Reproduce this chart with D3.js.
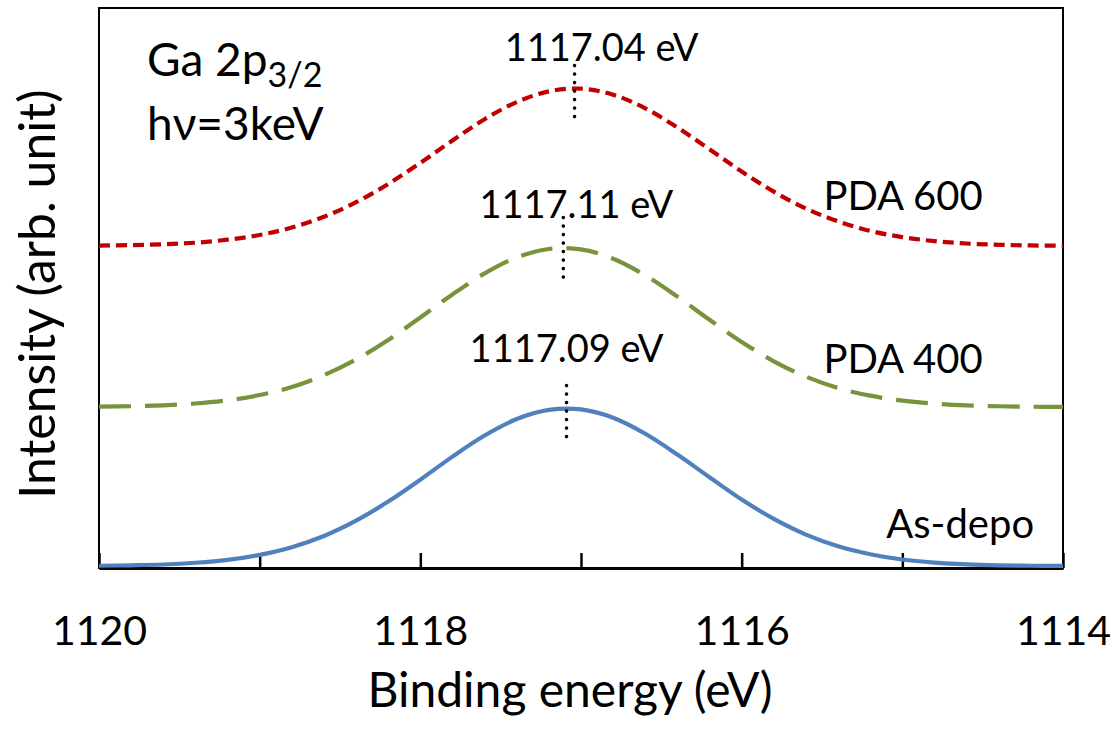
<!DOCTYPE html>
<html>
<head>
<meta charset="utf-8">
<script src="https://cdn.jsdelivr.net/npm/d3@7"></script>
<style>
  html, body { margin: 0; padding: 0; background: #fff; }
  svg text { font-family: Lato, "Open Sans", sans-serif; fill: #000; }
</style>
</head>
<body>
<svg id="chart" width="1113" height="735"></svg>
<script>
// Binding-energy grid (eV), shared by all spectra
const energy = [1120.0, 1119.8, 1119.6, 1119.4, 1119.2, 1119.0, 1118.8, 1118.6, 1118.4, 1118.2,
                1118.0, 1117.8, 1117.6, 1117.4, 1117.2, 1117.0, 1116.8, 1116.6, 1116.4, 1116.2,
                1116.0, 1115.8, 1115.6, 1115.4, 1115.2, 1115.0, 1114.8, 1114.6, 1114.4, 1114.2, 1114.0];

// Ga 2p3/2 intensities (arb. unit, vertically offset)
const asDepo = [0.014, 0.017, 0.022, 0.033, 0.051, 0.082, 0.130, 0.200, 0.296, 0.415,
                0.552, 0.696, 0.828, 0.931, 0.988, 0.991, 0.939, 0.839, 0.709, 0.567,
                0.428, 0.307, 0.209, 0.136, 0.086, 0.053, 0.034, 0.023, 0.017, 0.014, 0.013];
const pda400 = [1.008, 1.011, 1.017, 1.028, 1.048, 1.081, 1.131, 1.205, 1.303, 1.425,
                1.566, 1.710, 1.841, 1.941, 1.994, 1.991, 1.933, 1.829, 1.696, 1.551,
                1.413, 1.292, 1.196, 1.125, 1.077, 1.046, 1.027, 1.016, 1.011, 1.008, 1.007];
const pda600 = [2.015, 2.018, 2.023, 2.033, 2.052, 2.081, 2.128, 2.195, 2.286, 2.400,
                2.532, 2.672, 2.805, 2.912, 2.979, 2.996, 2.958, 2.873, 2.753, 2.617,
                2.478, 2.352, 2.247, 2.166, 2.107, 2.068, 2.043, 2.028, 2.020, 2.016, 2.014];

const seriesNames = ["As-depo", "PDA 400", "PDA 600"];
const seriesValues = [asDepo, pda400, pda600];

// Peak positions (eV) and the vertical extent of each peak marker (arb. unit)
const peakEnergy = [1117.09, 1117.11, 1117.04];
const markerLow  = [0.80, 1.79, 2.79];
const markerHigh = [1.14, 2.19, 3.14];

const xTicks = [1120, 1119, 1118, 1117, 1116, 1115, 1114];
const xTickLabels = ["1120", "", "1118", "", "1116", "", "1114"];

// ---- styling / layout ----
const styles = [
  { color: "#4F81BD", dash: null },
  { color: "#77933C", dash: "32,14" },
  { color: "#C00000", dash: "11,6" }
];
// label placement: series names (right side) and peak-value labels
const nameLabelPos = [
  { e: 1114.18, v: 0.19, anchor: "end" },
  { e: 1114.5, v: 1.22, anchor: "end" },
  { e: 1114.5, v: 2.24, anchor: "end" }
];
const peakLabelDx = [0, 13, 27];
const peakLabelV = [1.29, 2.19, 3.17];

const svg = d3.select("#chart");
const margin = { left: 99, right: 1063, top: 8, bottom: 568 };

const x = d3.scaleLinear().domain([1120, 1114]).range([margin.left, margin.right]);
const y = d3.scaleLinear().domain([0, 3.5]).range([margin.bottom, margin.top]);

// frame
svg.append("rect")
  .attr("x", margin.left).attr("y", margin.top)
  .attr("width", margin.right - margin.left).attr("height", margin.bottom - margin.top)
  .attr("fill", "none").attr("stroke", "#000").attr("stroke-width", 2);

// x axis with inner ticks
const xAxis = d3.axisBottom(x)
  .tickValues(xTicks)
  .tickSizeInner(-15)
  .tickSizeOuter(0)
  .tickPadding(0)
  .tickFormat((d, i) => xTickLabels[i]);

const gx = svg.append("g")
  .attr("transform", `translate(0,${margin.bottom})`)
  .call(xAxis);
gx.select(".domain").attr("stroke", "#000").attr("stroke-width", 3);
gx.selectAll(".tick line").attr("stroke", "#000").attr("stroke-width", 2.5);
gx.selectAll(".tick text")
  .attr("y", 77).attr("dy", null)
  .style("font-size", "41px")
  .attr("fill", "#000");

// spectra
const line = d3.line()
  .x((d) => x(d[0]))
  .y((d) => y(d[1]))
  .curve(d3.curveCatmullRom.alpha(0.5));

seriesValues.forEach((vals, i) => {
  const pts = energy.map((e, k) => [e, vals[k]]);
  const p = svg.append("path")
    .datum(pts)
    .attr("d", line)
    .attr("fill", "none")
    .attr("stroke", styles[i].color)
    .attr("stroke-width", 4.2);
  if (styles[i].dash) p.attr("stroke-dasharray", styles[i].dash);
});

// peak markers (dotted) and their value labels
peakEnergy.forEach((pe, i) => {
  svg.append("line")
    .attr("x1", x(pe)).attr("x2", x(pe))
    .attr("y1", y(markerHigh[i])).attr("y2", y(markerLow[i]))
    .attr("stroke", "#000")
    .attr("stroke-width", 3.6)
    .attr("stroke-linecap", "round")
    .attr("stroke-dasharray", "0,8.5");
  svg.append("text")
    .attr("x", x(pe) + peakLabelDx[i])
    .attr("y", y(peakLabelV[i]))
    .attr("text-anchor", "middle")
    .style("font-size", "38px")
    .text(d3.format(".2f")(pe) + " eV");
});

// series names
seriesNames.forEach((name, i) => {
  svg.append("text")
    .attr("x", x(nameLabelPos[i].e))
    .attr("y", y(nameLabelPos[i].v))
    .attr("text-anchor", nameLabelPos[i].anchor)
    .style("font-size", "40px")
    .text(name);
});

// core-level / photon-energy annotation
const ann = svg.append("text").attr("x", 147).attr("y", 76).style("font-size", "46px");
ann.append("tspan").text("Ga 2p");
ann.append("tspan").attr("dy", 11).style("font-size", "34px").text("3/2");
svg.append("text").attr("x", 147).attr("y", 140).style("font-size", "46px").text("hν=3keV");

// axis titles
svg.append("text")
  .attr("x", 570)
  .attr("y", 707)
  .attr("text-anchor", "middle")
  .style("font-size", "48px")
  .text("Binding energy (eV)");

svg.append("text")
  .attr("transform", "translate(55,294) rotate(-90)")
  .attr("text-anchor", "middle")
  .style("font-size", "50px")
  .text("Intensity (arb. unit)");
</script>
</body>
</html>
